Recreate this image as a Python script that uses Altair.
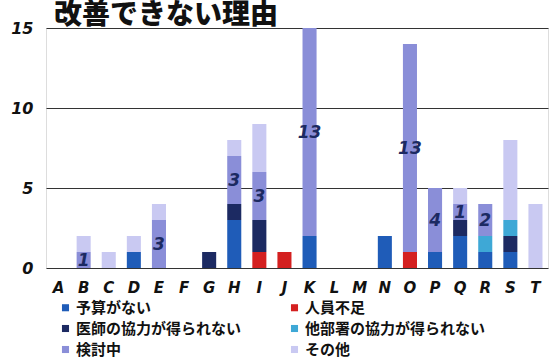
import altair as alt
import pandas as pd

categories = list("ABCDEFGHIJKLMNOPQRST")
series = ["予算がない", "人員不足", "医師の協力が得られない", "他部署の協力が得られない", "検討中", "その他"]
colors = ["#1f5cb8", "#d42020", "#1c2a62", "#3ea8d6", "#8a8ed8", "#c9c9f2"]
legend_order = [0, 2, 4, 1, 3, 5]

yosan   = [0, 0, 0, 1, 0, 0, 0, 3, 0, 0, 2, 0, 0, 2, 0, 1, 2, 1, 1, 0]
jinin   = [0, 0, 0, 0, 0, 0, 0, 0, 1, 1, 0, 0, 0, 0, 1, 0, 0, 0, 0, 0]
ishi    = [0, 0, 0, 0, 0, 0, 1, 1, 2, 0, 0, 0, 0, 0, 0, 0, 1, 0, 1, 0]
tabusho = [0, 0, 0, 0, 0, 0, 0, 0, 0, 0, 0, 0, 0, 0, 0, 0, 0, 1, 1, 0]
kento   = [0, 1, 0, 0, 3, 0, 0, 3, 3, 0, 13, 0, 0, 0, 13, 4, 1, 2, 0, 0]
sonota  = [0, 1, 1, 1, 1, 0, 0, 1, 3, 0, 0, 0, 0, 0, 0, 0, 1, 0, 5, 4]

values = [yosan, jinin, ishi, tabusho, kento, sonota]
rows = []
for si, (s, vals) in enumerate(zip(series, values)):
    for c, v in zip(categories, vals):
        rows.append({"cat": c, "series": s, "order": si, "value": v})
df = pd.DataFrame(rows)

FONT = "Noto Sans CJK JP"
dom = [series[i] for i in legend_order]
rng = [colors[i] for i in legend_order]

x = alt.X("cat:N", sort=categories, title=None,
          scale=alt.Scale(paddingInner=0.44, paddingOuter=0.22),
          axis=alt.Axis(labelAngle=0, labelFont="DejaVu Sans", labelFontSize=15,
                        labelFontWeight="bold", labelFontStyle="italic", labelColor="#111",
                        labelPadding=12, ticks=False, domain=False, grid=False))

bars = alt.Chart(df).mark_bar().encode(
    x=x,
    y=alt.Y("value:Q", stack="zero", title=None,
            scale=alt.Scale(domain=[0, 15], nice=False),
            axis=alt.Axis(values=[0, 5, 10, 15], labelFont="DejaVu Sans", labelFontSize=16,
                          labelFontWeight="bold", labelFontStyle="italic", labelColor="#111",
                          labelPadding=13, ticks=False, domain=False,
                          gridColor="#333", gridWidth=1.2, gridOpacity=1)),
    color=alt.Color("series:N", sort=dom,
                    scale=alt.Scale(domain=dom, range=rng),
                    legend=alt.Legend(title=None, orient="none", legendX=12, legendY=272,
                                      columns=2, columnPadding=45, rowPadding=5, padding=0,
                                      symbolType="square", symbolSize=50,
                                      symbolStrokeWidth=0, labelFont=FONT, labelFontSize=15,
                                      labelFontWeight="bold", labelColor="#111",
                                      labelLimit=300, symbolOffset=0, labelOffset=3)),
    order=alt.Order("order:Q"),
)

kdf = pd.DataFrame({"cat": categories, "base": [a + b + c + d for a, b, c, d in zip(yosan, jinin, ishi, tabusho)],
                    "kento": kento})
kdf = kdf[kdf["kento"] > 0]
kdf["mid"] = kdf["base"] + kdf["kento"] / 2
kdf["label"] = kdf["kento"].astype(str)

labels = alt.Chart(kdf).mark_text(font="DejaVu Sans", fontSize=17, fontWeight="bold",
                                  fontStyle="italic", color="#1c2a62", dy=1).encode(
    x=alt.X("cat:N", sort=categories),
    y=alt.Y("mid:Q"),
    text="label:N",
)

title = alt.Chart(pd.DataFrame({"t": ["改善できない理由"]})).mark_text(
    font=FONT, fontSize=28, fontWeight=900, color="#111", align="left", baseline="alphabetic"
).encode(x=alt.value(8), y=alt.value(-4), text="t:N")

chart = alt.layer(bars, labels, title).properties(
    width=502, height=240,
    autosize=alt.AutoSizeParams(type="none"),
    padding={"left": 46, "top": 28, "right": 2, "bottom": 96},
).configure_view(stroke=None).configure(background="white")

chart.save("out.html", embed_options={"renderer": "svg", "actions": False})
